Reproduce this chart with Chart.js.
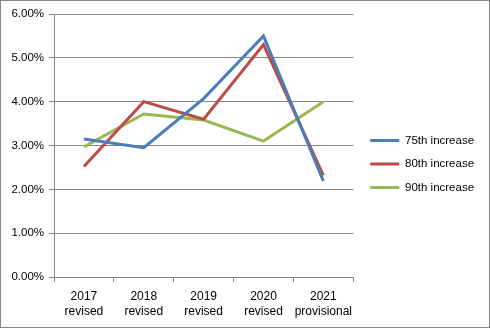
<!DOCTYPE html>
<html><head><meta charset="utf-8">
<script src="https://cdn.jsdelivr.net/npm/chart.js@4/dist/chart.umd.min.js"></script>
<style>html,body{margin:0;padding:0;background:#fff}#wrap{width:490px;height:328px;position:relative}</style>
</head><body><div id="wrap"><canvas id="c" width="490" height="328"></canvas></div>
<script>
const categories = [["2017","revised"],["2018","revised"],["2019","revised"],["2020","revised"],["2021","provisional"]];
const seriesNames = ["75th increase","80th increase","90th increase"];
const p75 = [3.15, 2.95, 4.07, 5.50, 2.19];
const p80 = [2.52, 4.00, 3.60, 5.30, 2.32];
const p90 = [2.97, 3.72, 3.58, 3.10, 4.00];
const colors = ["#4A7EBB","#BE4B48","#98B954"];
const gridColor = "#868686";
const font = {family:"'Liberation Sans', Arial, sans-serif", size:11.5};

const border = {id:'border', afterDraw(chart){const c=chart.ctx;c.save();c.strokeStyle='#868686';c.lineWidth=1;c.strokeRect(0.5,0.5,chart.width-1,chart.height-1);c.restore();}};
const legendShift = {id:'legendShift', afterLayout(chart){const l=chart.legend; if(!l) return; const dx=5, dy=-7; l.left+=dx; l.right+=dx; l.top+=dy; l.bottom+=dy;}};

new Chart(document.getElementById('c'), {
  type:'line',
  data:{labels:categories, datasets:[p75,p80,p90].map((d,i)=>({label:seriesNames[i],data:d,borderColor:colors[i],backgroundColor:colors[i],borderWidth:3,pointRadius:0,tension:0,fill:false}))},
  options:{
    responsive:false, animation:false, devicePixelRatio:1,
    layout:{padding:{left:0,right:19,top:14,bottom:0}},
    plugins:{
      legend:{position:'right',labels:{usePointStyle:true,pointStyle:'line',pointStyleWidth:29,padding:12,color:'#000',font:font}},
      tooltip:{enabled:false}
    },
    scales:{
      x:{offset:true,grid:{offset:true,drawOnChartArea:false,drawTicks:true,tickLength:5,color:gridColor},border:{color:gridColor},ticks:{color:'#000',font:{family:font.family,size:12,lineHeight:1.25},maxRotation:0,autoSkip:false,padding:7},
         afterFit(s){s.height=51;}},
      y:{min:0,max:6,grid:{color:gridColor,tickLength:5},border:{color:gridColor},
         ticks:{stepSize:1,color:'#000',font:font,padding:5,callback:v=>v.toFixed(2)+'%'},
         afterFit(s){s.width=54;}}
    }
  },
  plugins:[border, legendShift]
});
</script></body></html>
